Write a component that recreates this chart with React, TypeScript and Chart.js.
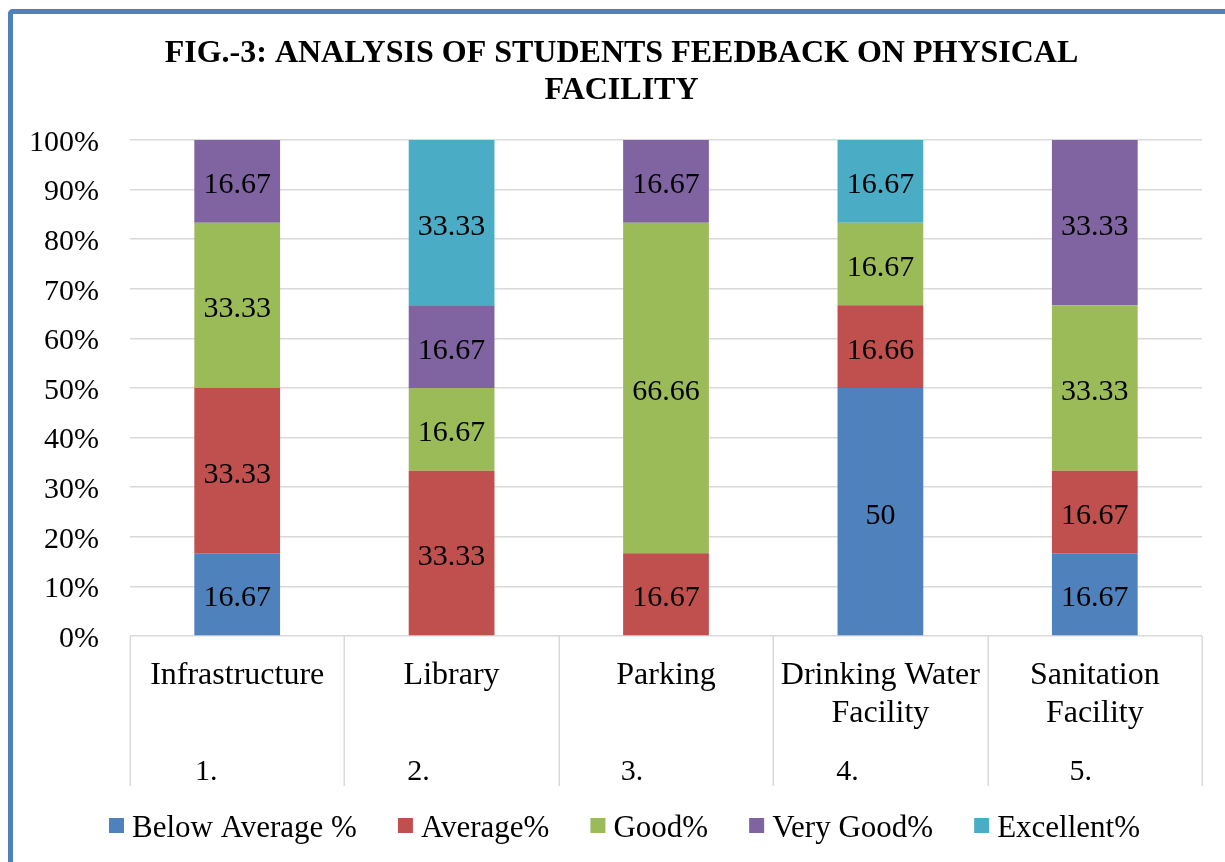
import React, { useEffect, useRef } from 'react';
import { Chart, registerables } from 'chart.js';

Chart.register(...registerables);

// ---- data ----
const categories: string[][] = [
  ['Infrastructure'],
  ['Library'],
  ['Parking'],
  ['Drinking Water', 'Facility'],
  ['Sanitation', 'Facility'],
];
const categoryNumbers = ['1.', '2.', '3.', '4.', '5.'];
const seriesNames = ['Below Average %', 'Average%', 'Good%', 'Very Good%', 'Excellent%'];
const belowAverage = [16.67, 0, 0, 50, 16.67];
const average = [33.33, 33.33, 16.67, 16.66, 16.67];
const good = [33.33, 16.67, 66.66, 16.67, 33.33];
const veryGood = [16.67, 16.67, 16.67, 0, 33.33];
const excellent = [0, 33.33, 0, 16.67, 0];
const titleLines = ['FIG.-3: ANALYSIS OF STUDENTS FEEDBACK ON PHYSICAL', 'FACILITY'];

// ---- style ----
const seriesColors = ['#4F81BD', '#C0504D', '#9BBB59', '#8064A2', '#4BACC6'];
const SERIF = '"Liberation Serif", "Times New Roman", serif';
const GRID = '#d9d9d9';
const numberShift = [-31, -33, -34, -33, -14];

const overlay = {
  id: 'overlay',
  afterDatasetsDraw(chart: any) {
    const ctx = chart.ctx;
    ctx.save();
    ctx.font = `30px ${SERIF}`;
    ctx.fillStyle = '#000';
    ctx.textAlign = 'center';
    ctx.textBaseline = 'middle';
    chart.data.datasets.forEach((ds: any, i: number) => {
      const meta = chart.getDatasetMeta(i);
      meta.data.forEach((bar: any, j: number) => {
        const v = ds.data[j];
        if (!v) return;
        const p = bar.getProps(['x', 'y', 'base'], true);
        ctx.fillText(String(v), p.x, (p.y + p.base) / 2 + 4);
      });
    });
    ctx.restore();
  },
  afterDraw(chart: any) {
    const ctx = chart.ctx;
    const area = chart.chartArea;
    const xs = chart.scales.x;
    ctx.save();

    // title
    ctx.fillStyle = '#000';
    ctx.textAlign = 'center';
    ctx.textBaseline = 'alphabetic';
    ctx.font = `bold 32px ${SERIF}`;
    ctx.fillText(titleLines[0], 621.5, 62);
    ctx.fillText(titleLines[1], 621.5, 99);

    // category dividers
    const n = categories.length;
    const cw = (area.right - area.left) / n;
    ctx.strokeStyle = GRID;
    ctx.lineWidth = 1.5;
    for (let i = 0; i <= n; i++) {
      const x = Math.round(area.left + i * cw) + 0.25;
      ctx.beginPath();
      ctx.moveTo(x, area.bottom);
      ctx.lineTo(x, 786);
      ctx.stroke();
    }

    // category labels
    ctx.font = `32px ${SERIF}`;
    ctx.textBaseline = 'middle';
    categories.forEach((lines, i) => {
      const cx = xs.getPixelForValue(i);
      lines.forEach((t, k) => ctx.fillText(t, cx, 676 + k * 38));
    });
    ctx.font = `30px ${SERIF}`;
    categoryNumbers.forEach((t, i) => {
      const cx = xs.getPixelForValue(i) + numberShift[i];
      ctx.fillText(t, cx, 772);
    });

    // legend
    ctx.font = `31px ${SERIF}`;
    const box = 15;
    const boxGap = 8;
    const itemGap = 41;
    const widths = seriesNames.map((s) => ctx.measureText(s).width);
    const total = widths.reduce((a, w) => a + box + boxGap + w, 0) + itemGap * (seriesNames.length - 1);
    let x = 624.5 - total / 2;
    const ly = 826;
    ctx.textAlign = 'left';
    seriesNames.forEach((s, i) => {
      ctx.fillStyle = seriesColors[i];
      ctx.fillRect(x, ly - 8, box, box);
      ctx.fillStyle = '#000';
      ctx.fillText(s, x + box + boxGap, ly + 3);
      x += box + boxGap + widths[i] + itemGap;
    });
    ctx.restore();
  },
};

export default function App() {
  const ref = useRef<HTMLCanvasElement>(null);
  useEffect(() => {
    if (!ref.current) return;
    const seriesData = [belowAverage, average, good, veryGood, excellent];
    const chart = new Chart(ref.current, {
      type: 'bar',
      data: {
        labels: categories.map((c) => c.join(' ')),
        datasets: seriesNames.map((name, i) => ({
          label: name,
          data: seriesData[i],
          backgroundColor: seriesColors[i],
          borderWidth: 0,
          barPercentage: 0.4,
          categoryPercentage: 1,
        })),
      },
      options: {
        responsive: false,
        animation: false,
        devicePixelRatio: 1,
        layout: { padding: { top: 140, right: 23, bottom: 226, left: 0 } },
        plugins: {
          legend: { display: false },
          title: { display: false },
          tooltip: { enabled: false },
        },
        scales: {
          x: { stacked: true, display: false },
          y: {
            stacked: true,
            min: 0,
            max: 100,
            afterFit: (s: any) => {
              s.width = 130;
            },
            border: { display: false },
            grid: { color: GRID, lineWidth: 1.5, drawTicks: false },
            ticks: {
              stepSize: 10,
              padding: 31,
              labelOffset: 3,
              color: '#000',
              font: { family: SERIF, size: 30 },
              callback: (v: any) => `${v}%`,
            },
          },
        },
      },
      plugins: [overlay],
    });
    return () => chart.destroy();
  }, []);

  return (
    <div style={{ position: 'absolute', left: 0, top: 0, width: 1225, height: 862, overflow: 'hidden', background: '#fff' }}>
      <div
        style={{
          position: 'absolute',
          left: 8,
          top: 9,
          width: 1300,
          height: 900,
          borderLeft: '5px solid #4F81BD',
          borderTop: '5px solid #4F81BD',
          borderTopLeftRadius: 5,
        }}
      />
      <canvas ref={ref} width={1225} height={862} style={{ position: 'absolute', left: 0, top: 0 }} />
    </div>
  );
}
